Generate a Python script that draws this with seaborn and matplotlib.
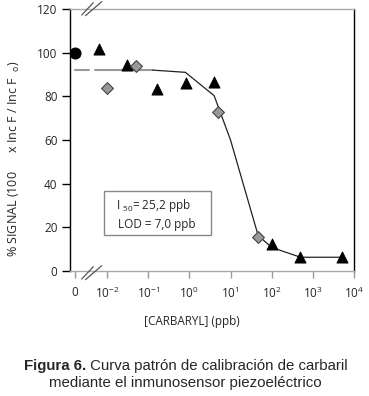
import numpy as np
import pandas as pd
import matplotlib
matplotlib.use("Agg")
import matplotlib.pyplot as plt
from matplotlib.patches import Rectangle
from matplotlib.lines import Line2D
import seaborn as sns

# data (carbaryl concentration in ppb, % signal)
zero_conc = [0.0]
zero_signal = [100.0]

tri_conc = [0.0064, 0.031, 0.16, 0.81, 4.0, 100, 500, 5000]
tri_signal = [101.5, 94.4, 83.4, 86.3, 86.4, 12.2, 6.3, 6.3]

dia_conc = [0.01, 0.05, 5.0, 47]
dia_signal = [84.0, 94.0, 72.8, 15.7]

fit_conc_low = [0.005, 0.13]
fit_signal_low = [92.0, 92.0]
fit_conc = [0.13, 0.8, 4.0, 10, 47, 100, 500, 5000]
fit_signal = [92.0, 91.0, 80.3, 60.0, 16.2, 10.8, 6.3, 6.3]

xtick_labels = ["0", "$10^{-2}$", "$10^{-1}$", "$10^{0}$", "$10^{1}$",
                "$10^{2}$", "$10^{3}$", "$10^{4}$"]
yticks = [0, 20, 40, 60, 80, 100, 120]

ZERO_POS = -2.78  # where "0" sits on the broken log axis


def xpos(c):
    c = np.asarray(c, dtype=float)
    return np.where(c > 0, np.log10(np.where(c > 0, c, 1)), ZERO_POS)


sns.set_style("white")
plt.rcParams["font.family"] = ["Open Sans", "DejaVu Sans"]
plt.rcParams["mathtext.default"] = "regular"

W, H = 369, 396
fig = plt.figure(figsize=(W / 100, H / 100), dpi=100)
ax = fig.add_axes([70 / W, 1 - 271 / H, 284 / W, 262 / H])

# fitted curve
ax.plot([ZERO_POS, np.log10(0.0037)], [92, 92], color="#999999", lw=1.5)
sns.lineplot(x=xpos(fit_conc_low), y=fit_signal_low, ax=ax, color="#999999",
             lw=1.5, sort=False)
sns.lineplot(x=xpos(fit_conc), y=fit_signal, ax=ax, color="#222222",
             lw=0.9, sort=False)

# markers
sns.scatterplot(x=xpos(zero_conc), y=zero_signal, ax=ax, marker="o", s=64,
                color="black", edgecolor="black", zorder=5)
sns.scatterplot(x=xpos(tri_conc), y=tri_signal, ax=ax, marker="^", s=64,
                color="black", edgecolor="black", zorder=5)
sns.scatterplot(x=xpos(dia_conc), y=dia_signal, ax=ax, marker="D", s=36,
                color="#999999", edgecolor="#444444", linewidth=0.8, zorder=6)

ax.set_xlim(-2.9, 4.0)
ax.set_ylim(0, 120)
ax.set_xticks([ZERO_POS, -2, -1, 0, 1, 2, 3, 4])
ax.set_xticklabels(xtick_labels)
ax.set_yticks(yticks)
ax.tick_params(axis="y", direction="out", length=6, width=1, color="black",
               labelsize=8.5, pad=3, left=True)
ax.tick_params(axis="x", direction="out", length=5, width=1, color="#999999",
               labelsize=8.5, pad=6, bottom=True)

for side, col in [("left", "black"), ("right", "black"),
                  ("top", "#aaaaaa"), ("bottom", "#aaaaaa")]:
    ax.spines[side].set_visible(True)
    ax.spines[side].set_color(col)
    ax.spines[side].set_linewidth(1.0)

# legend-like box with I50 and LOD
ax.add_patch(Rectangle((0.12, 0.137), 0.376, 0.168, transform=ax.transAxes,
                       fill=False, edgecolor="#888888", lw=1))
ax.text(0.163, 0.25, "I $_{50}$= 25,2 ppb", transform=ax.transAxes,
        fontsize=8.5, va="center", ha="left")
ax.text(0.17, 0.177, "LOD = 7,0 ppb", transform=ax.transAxes,
        fontsize=8.5, va="center", ha="left")


def px(x, y):
    return (x / W, 1 - y / H)


# axis break marks
for dy in (0, 264):
    for (x0, y0, x1, y1) in [(81.7, 15, 93.3, 2.7), (85.5, 15.7, 101.7, 1.7)]:
        (a, b), (c, d) = px(x0, y0 + dy), px(x1, y1 + dy)
        fig.add_artist(Line2D([a, c], [b, d], color="#555555", lw=0.9))

fig.text(*px(192, 322), "[CARBARYL] (ppb)", ha="center", va="center",
         fontsize=8.5)
fig.text(*px(14, 159), "% SIGNAL (100      x Inc F / Inc F  $_{o}$)",
         rotation=90, ha="center", va="center", fontsize=9)

# caption: bold "Figura 6." followed by regular text, centred as one line
r = fig.canvas.get_renderer()
cap_font = ["Liberation Sans", "DejaVu Sans"]
t1 = fig.text(0, 0, "Figura 6.", fontsize=10.8, fontweight="bold",
              family=cap_font)
t2 = fig.text(0, 0, " Curva patrón de calibración de carbaril", fontsize=10.8,
              family=cap_font)
w1 = t1.get_window_extent(r).width
w2 = t2.get_window_extent(r).width
x_start = (185.5 - (w1 + w2) / 2) / W
yc = 1 - 366 / H
t1.set_position((x_start, yc))
t2.set_position((x_start + w1 / W, yc))
t1.set_va("center")
t2.set_va("center")
fig.text(*px(185.5, 383.5), "mediante el inmunosensor piezoeléctrico",
         ha="center", va="center", fontsize=10.8, family=cap_font)

fig.savefig("out.png", dpi=100)
